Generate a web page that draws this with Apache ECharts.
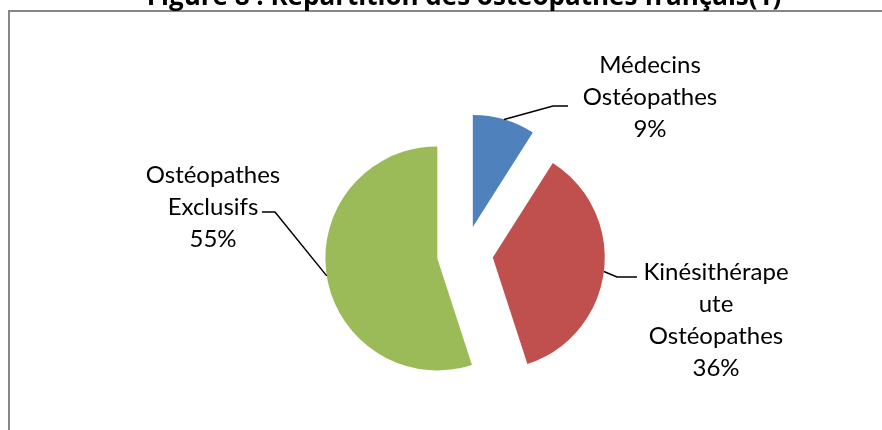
<!DOCTYPE html>
<html><head><meta charset="utf-8">
<script src="https://cdn.jsdelivr.net/npm/echarts@6/dist/echarts.min.js"></script>
<style>html,body{margin:0;padding:0;background:#fff}#c{width:882px;height:430px}</style>
</head><body><div id="c"></div>
<script>
const titleText = "Figure 8 : Répartition des ostéopathes français(1)";
const categories = ["Médecins\nOstéopathes", "Kinésithérape\nute\nOstéopathes", "Ostéopathes\nExclusifs"];
const values = [9, 36, 55];
const colors = ["#4F81BD", "#C0504D", "#9BBB59"];

// layout constants (styles, not data)
const CX = 465, CY = 254, R = 112, OFF = 28;
const labelPos = [
  {x: 650, y: 97, line: [[568,106],[553,106]]},
  {x: 716, y: 320, line: [[637,277],[617,277]]},
  {x: 213, y: 207, line: [[262,212],[275,212]]}
];

const total = values.reduce((a, b) => a + b, 0);
const graphics = [
  {type: 'rect', shape: {x: 9, y: 11, width: 1000, height: 600}, style: {fill: 'none', stroke: '#878787', lineWidth: 2}},
  {type: 'text', x: 464, y: 11, style: {text: titleText, font: 'bold 26px "Open Sans"', fill: '#000', textAlign: 'center', textVerticalAlign: 'bottom'}}
];
let acc = 0;
values.forEach((v, i) => {
  const mid = (acc + v / 2) / total * 2 * Math.PI; // clockwise from 12 o'clock
  acc += v;
  const dx = Math.sin(mid), dy = -Math.cos(mid);
  const start = [CX + (OFF + R) * dx, CY + (OFF + R) * dy];
  const lp = labelPos[i];
  graphics.push({type: 'polyline', z: 10, shape: {points: [start, lp.line[1], lp.line[0]]}, style: {stroke: '#000', lineWidth: 1.5, fill: null}});
  graphics.push({type: 'text', z: 10, x: lp.x, y: lp.y, style: {text: categories[i] + '\n' + v + '%', font: '24px Lato', lineHeight: 32, fill: '#000', textAlign: 'center', textVerticalAlign: 'middle'}});
});

const chart = echarts.init(document.getElementById('c'));
chart.setOption({
  animation: false,
  graphic: graphics,
  series: [{
    type: 'pie',
    center: [CX, CY],
    radius: R,
    startAngle: 90,
    clockwise: true,
    selectedMode: 'multiple',
    selectedOffset: OFF,
    data: categories.map((c, i) => ({name: c, value: values[i], selected: true, itemStyle: {color: colors[i]}})),
    label: {show: false},
    labelLine: {show: false},
    emphasis: {disabled: true}
  }]
});
</script></body></html>
